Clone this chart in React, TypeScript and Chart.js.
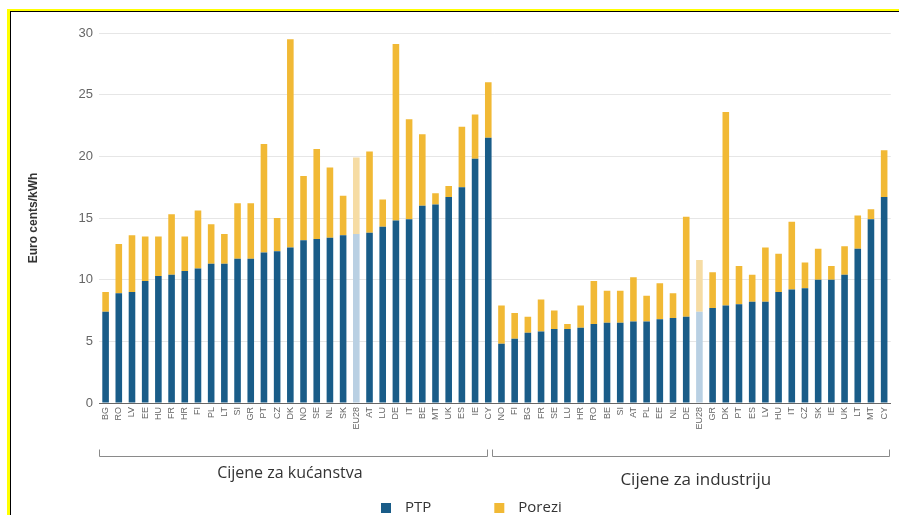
import { useEffect, useRef } from 'react';
import { Chart, registerables } from 'chart.js';

Chart.register(...registerables);

const householdCountries = ['BG', 'RO', 'LV', 'EE', 'HU', 'FR', 'HR', 'FI', 'PL', 'LT', 'SI', 'GR', 'PT', 'CZ', 'DK', 'NO', 'SE', 'NL', 'SK', 'EU28', 'AT', 'LU', 'DE', 'IT', 'BE', 'MT', 'UK', 'ES', 'IE', 'CY'];
const householdPTP = [7.4, 8.9, 9.0, 9.9, 10.3, 10.4, 10.7, 10.9, 11.3, 11.3, 11.7, 11.7, 12.2, 12.3, 12.6, 13.2, 13.3, 13.4, 13.6, 13.7, 13.8, 14.3, 14.8, 14.9, 16.0, 16.1, 16.7, 17.5, 19.8, 21.5];
const householdTax = [1.6, 4.0, 4.6, 3.6, 3.2, 4.9, 2.8, 4.7, 3.2, 2.4, 4.5, 4.5, 8.8, 2.7, 16.9, 5.2, 7.3, 5.7, 3.2, 6.2, 6.6, 2.2, 14.3, 8.1, 5.8, 0.9, 0.9, 4.9, 3.6, 4.5];

const industryCountries = ['NO', 'FI', 'BG', 'FR', 'SE', 'LU', 'HR', 'RO', 'BE', 'SI', 'AT', 'PL', 'EE', 'NL', 'DE', 'EU28', 'GR', 'DK', 'PT', 'ES', 'LV', 'HU', 'IT', 'CZ', 'SK', 'IE', 'UK', 'LT', 'MT', 'CY'];
const industryPTP = [4.8, 5.2, 5.7, 5.8, 6.0, 6.0, 6.1, 6.4, 6.5, 6.5, 6.6, 6.6, 6.8, 6.9, 7.0, 7.4, 7.7, 7.9, 8.0, 8.2, 8.2, 9.0, 9.2, 9.3, 10.0, 10.0, 10.4, 12.5, 14.9, 16.7];
const industryTax = [3.1, 2.1, 1.3, 2.6, 1.5, 0.4, 1.8, 3.5, 2.6, 2.6, 3.6, 2.1, 2.9, 2.0, 8.1, 4.2, 2.9, 15.7, 3.1, 2.2, 4.4, 3.1, 5.5, 2.1, 2.5, 1.1, 2.3, 2.7, 0.8, 3.8];

const groupLabels = ['Cijene za kućanstva', 'Cijene za industriju'];
const seriesNames = ['PTP', 'Porezi'];
const yTicks = [0, 5, 10, 15, 20, 25, 30];
const yTitle = 'Euro cents/kWh';

const BLUE = '#195c88';
const YELLOW = '#f1b935';
const BLUE_LIGHT = '#b9d0e3';
const YELLOW_LIGHT = '#f6dca4';

const groupPlugin = {
  id: 'groupBrackets',
  afterDraw(chart: any) {
    const { ctx, chartArea, scales } = chart;
    const x = scales.x;
    const b = chartArea.bottom;
    const n = householdCountries.length;
    const split = x.getPixelForValue(n - 1);
    const yLine = Math.round(b + 53) + 0.5;
    const tickH = 7;
    ctx.save();
    ctx.strokeStyle = '#8a8a8a';
    ctx.lineWidth = 1;
    const segs = [
      [chartArea.left - 0.5, split - 1],
      [split + 4, chartArea.right - 1.5],
    ];
    segs.forEach(([a, c]) => {
      ctx.beginPath();
      ctx.moveTo(Math.round(a) + 0.5, yLine - tickH);
      ctx.lineTo(Math.round(a) + 0.5, yLine);
      ctx.lineTo(Math.round(c) + 0.5, yLine);
      ctx.lineTo(Math.round(c) + 0.5, yLine - tickH);
      ctx.stroke();
    });
    ctx.fillStyle = '#333333';
    ctx.textAlign = 'center';
    ctx.textBaseline = 'middle';
    ctx.font = '16px "Open Sans"';
    ctx.fillText(groupLabels[0], (segs[0][0] + segs[0][1]) / 2 - 3, b + 70);
    ctx.font = '17px "Open Sans"';
    ctx.fillText(groupLabels[1], (segs[1][0] + segs[1][1]) / 2 + 5, b + 77);

    // legend
    ctx.font = '15px "Open Sans"';
    ctx.textAlign = 'left';
    let lx = chartArea.left + 282;
    const ly = b + 105;
    chart.data.datasets.forEach((ds: any) => {
      const col = Array.isArray(ds.backgroundColor) ? ds.backgroundColor[0] : ds.backgroundColor;
      ctx.fillStyle = col;
      ctx.fillRect(lx, ly - 5, 10, 10);
      ctx.fillStyle = '#333333';
      ctx.fillText(ds.label, lx + 24, ly);
      lx += 24 + ctx.measureText(ds.label).width + 63;
    });
    ctx.restore();
  },
};

export default function App() {
  const ref = useRef<HTMLCanvasElement | null>(null);

  useEffect(() => {
    if (!ref.current) return;
    const labels = [...householdCountries, ...industryCountries];
    const ptp = [...householdPTP, ...industryPTP];
    const tax = [...householdTax, ...industryTax];
    const blueColors = labels.map((l) => (l === 'EU28' ? BLUE_LIGHT : BLUE));
    const yellowColors = labels.map((l) => (l === 'EU28' ? YELLOW_LIGHT : YELLOW));

    const chart = new Chart(ref.current, {
      type: 'bar',
      data: {
        labels,
        datasets: [
          {
            label: seriesNames[0],
            data: ptp,
            backgroundColor: blueColors,
            barPercentage: 0.5,
            categoryPercentage: 1,
          },
          {
            label: seriesNames[1],
            data: tax,
            backgroundColor: yellowColors,
            barPercentage: 0.5,
            categoryPercentage: 1,
          },
        ],
      },
      options: {
        animation: false,
        responsive: false,
        maintainAspectRatio: false,
        layout: { padding: { left: 0, right: 6, top: 21, bottom: 0 } },
        plugins: {
          tooltip: { enabled: false },
          legend: { display: false },
        },
        scales: {
          x: {
            stacked: true,
            grid: { display: false, drawTicks: false },
            border: { display: true, color: '#666666', width: 1 },
            ticks: {
              autoSkip: false,
              maxRotation: 90,
              minRotation: 90,
              padding: 4,
              color: '#666666',
              font: { family: '"Liberation Sans"', size: 9 },
            },
            afterFit: (s: any) => {
              s.height = 122;
            },
          },
          y: {
            stacked: true,
            min: 0,
            max: 30,
            afterBuildTicks: (s: any) => {
              s.ticks = yTicks.map((v) => ({ value: v }));
            },
            grid: { color: '#e6e6e6', drawTicks: false },
            border: { display: false },
            ticks: {
              padding: 6,
              color: '#666666',
              font: { family: '"Liberation Sans"', size: 13 },
            },
            title: {
              display: true,
              text: yTitle,
              color: '#333333',
              font: { family: '"Liberation Sans"', size: 12, weight: 'bold' },
              padding: { top: 15, bottom: 0 },
            },
            afterFit: (s: any) => {
              s.width = 88;
            },
          },
        },
      },
      plugins: [groupPlugin],
    });
    return () => chart.destroy();
  }, []);

  return (
    <div style={{ position: 'fixed', left: 0, top: 0, width: 899, height: 515, overflow: 'hidden', background: '#fff' }}>
      <div
        style={{
          position: 'absolute',
          left: 7,
          top: 9,
          width: 900,
          height: 520,
          borderLeft: '3px solid #ffff00',
          borderTop: '2px solid #ffff00',
          boxSizing: 'border-box',
        }}
      >
        <div
          style={{
            width: '100%',
            height: '100%',
            borderLeft: '1px solid #000',
            borderTop: '1px solid #000',
            boxSizing: 'border-box',
          }}
        >
          <canvas ref={ref} width={888} height={513} style={{ display: 'block', width: 888, height: 513 }} />
        </div>
      </div>
    </div>
  );
}
